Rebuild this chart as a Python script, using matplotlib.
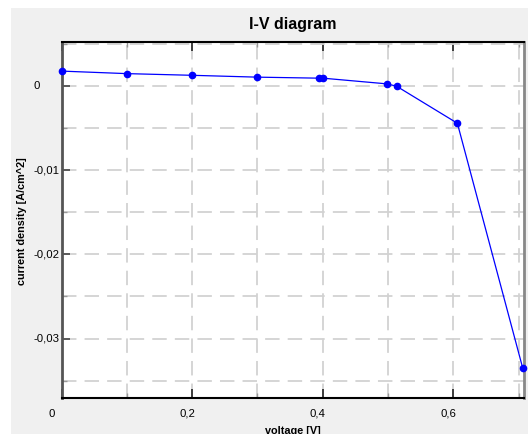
import matplotlib
matplotlib.use("Agg")
import matplotlib.pyplot as plt
from matplotlib.patches import Rectangle
from matplotlib.transforms import ScaledTranslation
import numpy as np

voltage = [0.0, 0.1, 0.2, 0.3, 0.394, 0.4, 0.4985, 0.513, 0.606, 0.706]
current = [0.0018, 0.0015, 0.0013, 0.00108, 0.00096, 0.00096, 0.00028, 0.0, -0.0044, -0.0335]

xticks = [0.0, 0.2, 0.4, 0.6]
xticklabels = ["0", "0,2", "0,4", "0,6"]
yticks = [0.0, -0.01, -0.02, -0.03]
yticklabels = ["0", "-0,01", "-0,02", "-0,03"]
xminor = [0.1, 0.3, 0.5, 0.7]
yminor = [0.005, -0.005, -0.015, -0.025, -0.035]

plt.rcParams['font.family'] = ['Liberation Sans', 'DejaVu Sans']

W, H = 528, 435
fig = plt.figure(figsize=(W / 100, H / 100), dpi=100, facecolor='white')
fig.patches.append(Rectangle((11 / W, 0), 1 - 11 / W, (H - 9) / H,
                             transform=fig.transFigure, facecolor='#f0f0f0',
                             edgecolor='none', zorder=-10))

left, right, top, bottom = 61.5, 524, 43, 399
ax = fig.add_axes([left / W, 1 - bottom / H, (right - left) / W, (bottom - top) / H])
ax.set_facecolor('white')

ax.plot(voltage, current, color='#0000ff', linewidth=0.9, marker='o',
        markersize=4.5, clip_on=False, zorder=5)

ax.set_xlim(0, 0.708)
ax.set_ylim(-0.03707, 0.00526)

ax.set_xticks(xticks)
ax.set_xticklabels(xticklabels)
ax.set_xticks(xminor, minor=True)
ax.set_yticks(yticks)
ax.set_yticklabels(yticklabels)
ax.set_yticks(yminor, minor=True)

ax.grid(True, which='both', color='#d2d2d2', linestyle=(0, (8, 4.5)), linewidth=1.3, zorder=0)
ax.set_axisbelow(True)

ax.tick_params(axis='x', which='major', direction='in', top=True, bottom=True,
               length=6.5, width=1.2, color='#222222', labelsize=8.2, pad=7)
ax.tick_params(axis='x', which='minor', direction='in', top=True, bottom=True,
               length=3.5, width=1.0, color='#999999')
ax.tick_params(axis='y', which='major', direction='in', left=True, right=False,
               length=6, width=1.2, color='#444444', labelsize=8.2, pad=20.5)
ax.tick_params(axis='y', which='minor', direction='in', left=True, right=False,
               length=3.5, width=1.0, color='#999999')

for lbl in ax.get_yticklabels():
    lbl.set_ha('left')
    lbl.set_transform(lbl.get_transform() + ScaledTranslation(0, 2 / 100, fig.dpi_scale_trans))
for i, lbl in enumerate(ax.get_xticklabels()):
    dx = -10 if i == 0 else -5
    lbl.set_transform(lbl.get_transform() + ScaledTranslation(dx / 100, 0, fig.dpi_scale_trans))

for s, c, w in [('top', '#000000', 1.5), ('bottom', '#000000', 1.5),
                ('left', '#555555', 2.0), ('right', '#888888', 2.0)]:
    ax.spines[s].set_color(c)
    ax.spines[s].set_linewidth(w)

ax.set_title("I-V diagram", fontsize=11.5, fontweight='bold', pad=10)
ax.set_xlabel("voltage [V]", fontsize=7.8, fontweight='bold', labelpad=5)
ax.set_ylabel("current density [A/cm^2]", fontsize=7.8, fontweight='bold', labelpad=4)

fig.savefig("out.png", dpi=100, facecolor='white')
